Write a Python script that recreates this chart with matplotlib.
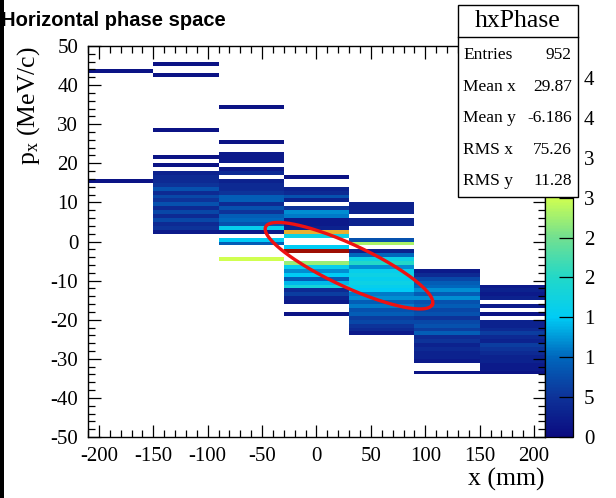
import numpy as np
import matplotlib
matplotlib.use("Agg")
import matplotlib.pyplot as plt
from matplotlib.colors import LinearSegmentedColormap, Normalize
from matplotlib.patches import Rectangle
from matplotlib.lines import Line2D
from matplotlib.ticker import MultipleLocator

# ---------------- data ----------------
x_edges = [-210, -150, -90, -30, 30, 90, 150, 210]
y_low, y_high = -50, 50

col1_bins = [43, 15]
col1_counts = [1, 1]

col2_bins = [45, 42, 28, 21, 19, 17, 16, 15, 14, 13, 12, 11, 10, 9, 8, 7, 6, 5, 4, 3, 2]
col2_counts = [1, 1, 1, 1, 1, 3, 4, 4, 5, 8, 4, 7, 5, 8, 4, 7, 4, 7, 4, 5, 2]

col3_bins = [34, 25, 22, 21, 20, 18, 17, 15, 14, 13, 12, 11, 10, 9, 8, 7, 6, 5, 4, 3, 2, 0, -1, -5]
col3_counts = [1, 1, 2, 2, 2, 2, 4, 3, 4, 4, 5, 9, 9, 4, 8, 5, 9, 10, 8, 16, 2, 15, 9, 30]

col4_bins = [16, 13, 12, 11, 10, 8, 7, 6, 5, 4, 3, 2, 1, -2, -3, -6,
             -7, -8, -9, -10, -11, -12, -13, -14, -15, -16, -19]
col4_counts = [1, 3, 4, 8, 3, 5, 12, 11, 2, 2, 3, 40, 17, 15, 48, 27,
               16, 12, 15, 9, 14, 18, 4, 6, 3, 2, 1]

col5_bins = [9, 8, 7, 5, 4, 0, -1, -3, -4, -5, -6, -7, -8, -9, -10, -11, -12, -13,
             -14, -15, -16, -17, -18, -19, -20, -21, -22, -23, -24]
col5_counts = [3, 3, 3, 3, 3, 8, 28, 3, 10, 17, 20, 12, 16, 17, 16, 17, 16, 15,
               11, 12, 9, 11, 8, 9, 6, 7, 5, 4, 2]

col6_bins = [-8, -9, -10, -11, -12, -13, -14, -15, -16, -17, -18, -19, -20, -21,
             -22, -23, -24, -25, -26, -27, -28, -29, -30, -31, -34]
col6_counts = [2, 4, 7, 9, 10, 12, 9, 12, 8, 9, 7, 8, 5, 7,
               8, 6, 9, 4, 5, 3, 4, 3, 3, 2, 1]

col7_bins = [-12, -13, -14, -15, -17, -19, -21, -22, -23, -24, -25, -26, -27, -28,
             -29, -30, -31, -32, -33, -34]
col7_counts = [2, 3, 2, 3, 2, 1, 3, 3, 4, 6, 4, 3, 6, 5,
               4, 3, 3, 2, 2, 1]

z_max = 49
cbar_ticks = [0, 5, 10, 15, 20, 25, 30, 35, 40, 45]
cbar_labels = ["0", "5", "1", "1", "2", "2", "3", "3", "4", "4"]

stat_title = "hxPhase"
stat_names = ["Entries", "Mean x", "Mean y", "RMS x", "RMS y"]
stat_values = ["952", "29.87", "-6.186", "75.26", "11.28"]

# ellipse (centred on the means)
ell_cx, ell_cy = 29.87, -6.186
ell_ax, ell_ay = 76.6, -9.94
ell_bx, ell_by = -8.16, -4.87

# ---------------- build grid ----------------
all_bins = [col1_bins, col2_bins, col3_bins, col4_bins, col5_bins, col6_bins, col7_bins]
all_counts = [col1_counts, col2_counts, col3_counts, col4_counts, col5_counts, col6_counts, col7_counts]
y_edges = np.arange(y_low, y_high + 1, 1)
grid = np.zeros((len(y_edges) - 1, len(x_edges) - 1))
for j, (bins, counts) in enumerate(zip(all_bins, all_counts)):
    for b, c in zip(bins, counts):
        grid[b - y_low, j] = c
masked = np.ma.masked_equal(grid, 0)

anchors = [
    (0, "#0b0b80"), (5, "#0d3399"), (10, "#0067bd"), (15, "#00ccf5"),
    (20, "#22d8c8"), (25, "#72e090"), (30, "#d0ff50"), (35, "#f5e830"),
    (40, "#e8b030"), (45, "#c04010"), (49, "#930000"),
]
cmap = LinearSegmentedColormap.from_list("rootpal", [(v / z_max, c) for v, c in anchors])
norm = Normalize(0, z_max)

# ---------------- figure ----------------
plt.rcParams["axes.unicode_minus"] = False
serif = "Liberation Serif"
plt.rcParams["mathtext.fontset"] = "custom"
plt.rcParams["mathtext.rm"] = serif
plt.rcParams["mathtext.it"] = serif + ":italic"

W, H = 616, 498
fig = plt.figure(figsize=(W / 100, H / 100), dpi=100)
fig.patch.set_facecolor("white")

def fx(px):
    return px / W

def fy(py):
    return 1 - py / H

L, R, T, B = 88, 545, 46, 437
ax = fig.add_axes([fx(L), fy(B), fx(R) - fx(L), fy(T) - fy(B)])
mesh = ax.pcolormesh(x_edges, y_edges, masked, cmap=cmap, norm=norm,
                     shading="flat", antialiased=False, edgecolors="none")
ax.set_xlim(-210, 210)
ax.set_ylim(-50, 50)
ax.xaxis.set_major_locator(MultipleLocator(50))
ax.xaxis.set_minor_locator(MultipleLocator(10))
ax.yaxis.set_major_locator(MultipleLocator(10))
ax.yaxis.set_minor_locator(MultipleLocator(2))
ax.tick_params(which="both", direction="in", top=True, right=True, width=0.9,
               labelsize=15, pad=7)
ax.tick_params(which="major", length=9)
ax.tick_params(which="minor", length=5)
for lab in ax.get_xticklabels() + ax.get_yticklabels():
    lab.set_fontfamily(serif)
for s in ax.spines.values():
    s.set_linewidth(1.0)

# ellipse
t = np.linspace(0, 2 * np.pi, 300)
ex = ell_cx + ell_ax * np.cos(t) + ell_bx * np.sin(t)
ey = ell_cy + ell_ay * np.cos(t) + ell_by * np.sin(t)
ax.plot(ex, ey, color="#ee1111", lw=2.4, zorder=5)

# colorbar
cax = fig.add_axes([fx(545), fy(B), fx(573) - fx(545), fy(T) - fy(B)])
cb = fig.colorbar(mesh, cax=cax)
cb.set_ticks(cbar_ticks)
cb.set_ticklabels(cbar_labels)
cb.minorticks_off()
cax.tick_params(direction="in", length=10, width=0.9, labelsize=15, pad=8)
for lab in cax.get_yticklabels():
    lab.set_fontfamily(serif)
cb.outline.set_linewidth(0.9)

# axis titles
fig.text(fx(29), fy(T), r"p$_{\mathrm{x}}$ (MeV/c)", rotation=90, ha="center", va="top",
         fontsize=18.5, family=serif)
fig.text(fx(R), fy(479), "x (mm)", ha="right", va="center", fontsize=18.5, family=serif)

# title
fig.text(fx(1), fy(26), "Horizontal phase space", ha="left", va="baseline",
         fontsize=14.5, fontweight="bold", family="Liberation Sans")
fig.add_artist(Rectangle((0, 0), fx(4), 1, transform=fig.transFigure,
                         facecolor="black", edgecolor="none", zorder=30))

# stats box
bx0, bx1, by0, by1, bsep = 458, 578, 5, 197, 37
fig.add_artist(Rectangle((fx(bx0), fy(by1)), fx(bx1) - fx(bx0), fy(by0) - fy(by1),
                         transform=fig.transFigure, facecolor="white",
                         edgecolor="black", lw=1.0, zorder=10))
fig.add_artist(Line2D([fx(bx0), fx(bx1)], [fy(bsep), fy(bsep)],
                      transform=fig.transFigure, color="black", lw=1.0, zorder=11))
fig.text(fx((bx0 + bx1) / 2), fy(21), stat_title, ha="center", va="center",
         fontsize=18.5, family=serif, zorder=12)
row_y = [55, 87, 118, 150, 181]
for name, val, yy in zip(stat_names, stat_values, row_y):
    fig.text(fx(463), fy(yy), name, ha="left", va="center", fontsize=12.5,
             family=serif, zorder=12)
    fig.text(fx(572), fy(yy), val, ha="right", va="center", fontsize=12.5,
             family=serif, zorder=12)

fig.savefig("out.png", dpi=100)
